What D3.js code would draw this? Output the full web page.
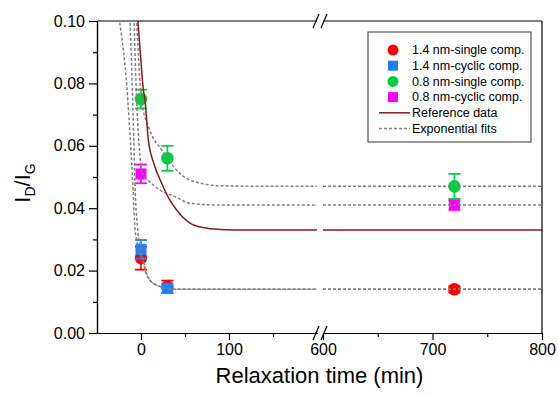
<!DOCTYPE html>
<html>
<head>
<meta charset="utf-8">
<script src="https://cdn.jsdelivr.net/npm/d3@7"></script>
<style>
  html, body { margin: 0; padding: 0; background: #fff; }
  svg { display: block; font-family: Arial, "Liberation Sans", sans-serif; }
</style>
</head>
<body>
<svg id="chart" width="558" height="397"></svg>
<script>
// ---- measured series (time in min, I_D/I_G) ----
const seriesNames = ["1.4 nm-single comp.", "1.4 nm-cyclic comp.", "0.8 nm-single comp.", "0.8 nm-cyclic comp."];
const seriesColors = ["#ff0000", "#1e80ff", "#00d040", "#ff00ff"];
const seriesShapes = ["circle", "square", "circle", "square"];

const single14T = [0, 30, 720];
const single14V = [0.024, 0.0148, 0.014];
const single14E = [0.0037, 0.002, 0.001];

const cyclic14T = [0, 30];
const cyclic14V = [0.0268, 0.0143];
const cyclic14E = [0.003, 0.0015];

const single08T = [0, 30, 720];
const single08V = [0.075, 0.056, 0.047];
const single08E = [0.003, 0.004, 0.004];

const cyclic08T = [0, 720];
const cyclic08V = [0.051, 0.041];
const cyclic08E = [0.003, 0.0015];

// ---- reference curve and exponential fits (points along each curve) ----
const refT = [-4, -1.9, 0, 2.6, 4.5, 8.3, 15, 23.5, 32, 40.5, 55.7, 70, 90, 120, 200, 600, 800];
const refV = [0.102, 0.094, 0.087, 0.078, 0.0747, 0.062, 0.054, 0.048, 0.043, 0.0394, 0.0352, 0.0338, 0.0332, 0.033, 0.033, 0.033, 0.033];

const fitSingle08T = [-5, 0.6, 10, 24, 38, 55.7, 90, 140, 200, 600, 800];
const fitSingle08V = [0.101, 0.0747, 0.065, 0.0585, 0.053, 0.049, 0.0472, 0.047, 0.047, 0.047, 0.047];

const fitCyclic08T = [-8, -5, -3, 2, 10, 21.6, 38.6, 55.7, 90, 200, 600, 800];
const fitCyclic08V = [0.101, 0.075, 0.0635, 0.051, 0.0485, 0.0458, 0.0437, 0.0416, 0.041, 0.041, 0.041, 0.041];

const fitSingle14T = [-25, -15, -12.5, -9, -7.5, -5, -2, 2, 6, 10, 18, 27, 40, 200, 600, 800];
const fitSingle14V = [0.101, 0.0747, 0.0635, 0.046, 0.036, 0.03, 0.026, 0.023, 0.019, 0.017, 0.0153, 0.0145, 0.014, 0.014, 0.014, 0.014];

const fitCyclic14T = [-12.5, -9.5, -8, -6.5, -4, -1, 2, 6, 10, 18, 27, 40, 200, 600, 800];
const fitCyclic14V = [0.101, 0.075, 0.06, 0.045, 0.034, 0.028, 0.024, 0.0195, 0.017, 0.0153, 0.0145, 0.014, 0.014, 0.014, 0.014];

// ---- axis definitions ----
const xDomainLow = [-50, 200];
const xDomainHigh = [600, 800];
const xMajorLow = [0, 100];
const xMinorLow = [50, 150];
const xMajorHigh = [600, 700, 800];
const xMinorHigh = [650, 750];
const yDomain = [0, 0.1];
const yMajor = [0, 0.02, 0.04, 0.06, 0.08, 0.10];
const yMinor = [0.01, 0.03, 0.05, 0.07, 0.09];

// ---- layout ----
const plotL = 97, plotR = 542, plotT = 21, plotB = 333;
const breakL = 317, breakR = 323;

const svg = d3.select("#chart");
const xLow = d3.scaleLinear().domain(xDomainLow).range([plotL, breakL]);
const xHigh = d3.scaleLinear().domain(xDomainHigh).range([breakR, plotR]);
const y = d3.scaleLinear().domain(yDomain).range([plotB, plotT]);
const xAt = t => (t <= xDomainLow[1] ? xLow(t) : xHigh(t));

const defs = svg.append("defs");
defs.append("clipPath").attr("id", "clipLow").append("rect")
  .attr("x", plotL).attr("y", plotT).attr("width", breakL - plotL).attr("height", plotB - plotT);
defs.append("clipPath").attr("id", "clipHigh").append("rect")
  .attr("x", breakR).attr("y", plotT).attr("width", plotR - breakR).attr("height", plotB - plotT);

const series = seriesNames.map((name, i) => {
  const T = [single14T, cyclic14T, single08T, cyclic08T][i];
  const V = [single14V, cyclic14V, single08V, cyclic08V][i];
  const E = [single14E, cyclic14E, single08E, cyclic08E][i];
  return { name, color: seriesColors[i], shape: seriesShapes[i],
           pts: T.map((t, j) => ({ t, v: V[j], e: E[j] })) };
});

// ---- markers with error bars ----
const capW = 6;
const markerLayer = svg.append("g");
series.forEach(s => {
  const g = markerLayer.append("g");
  s.pts.forEach(p => {
    const cx = xAt(p.t);
    g.append("line").attr("x1", cx).attr("x2", cx)
      .attr("y1", y(p.v + p.e)).attr("y2", y(p.v - p.e))
      .attr("stroke", s.color).attr("stroke-width", 1.6);
    [p.v + p.e, p.v - p.e].forEach(ev => {
      g.append("line").attr("x1", cx - capW).attr("x2", cx + capW)
        .attr("y1", y(ev)).attr("y2", y(ev))
        .attr("stroke", s.color).attr("stroke-width", 1.8);
    });
    if (s.shape === "circle") {
      g.append("circle").attr("cx", cx).attr("cy", y(p.v)).attr("r", 6.3).attr("fill", s.color);
    } else {
      g.append("rect").attr("x", cx - 5.5).attr("y", y(p.v) - 5.5)
        .attr("width", 11).attr("height", 11).attr("fill", s.color);
    }
  });
});

// ---- curves (drawn over the markers) ----
function drawCurve(T, V, color, dash) {
  const pts = T.map((t, i) => ({ t, v: V[i] }));
  const low = pts.filter(p => p.t <= xDomainLow[1]);
  const high = pts.filter(p => p.t >= xDomainHigh[0]);
  const lineLow = d3.line().x(p => xLow(p.t)).y(p => y(p.v)).curve(d3.curveMonotoneX);
  const lineHigh = d3.line().x(p => xHigh(p.t)).y(p => y(p.v));
  [[low, lineLow, "clipLow"], [high, lineHigh, "clipHigh"]].forEach(([d, gen, clip]) => {
    if (d.length < 2) return;
    svg.append("path").attr("d", gen(d)).attr("clip-path", `url(#${clip})`)
      .attr("fill", "none").attr("stroke", color).attr("stroke-width", 1.5)
      .attr("stroke-dasharray", dash);
  });
}
const fitColor = "#808080", fitDash = "3,2", refColor = "#8b1a1a";
drawCurve(fitSingle14T, fitSingle14V, fitColor, fitDash);
drawCurve(fitCyclic14T, fitCyclic14V, fitColor, fitDash);
drawCurve(fitCyclic08T, fitCyclic08V, fitColor, fitDash);
drawCurve(fitSingle08T, fitSingle08V, fitColor, fitDash);
drawCurve(refT, refV, refColor, null);

// ---- axes ----
const axisColor = "#000";
const tickFont = 16;

function styleAxis(g) {
  g.selectAll("path, line").attr("stroke", axisColor).attr("stroke-width", 1.2);
  g.selectAll("text").attr("font-size", tickFont).attr("fill", "#000")
    .attr("font-family", "Arial, 'Liberation Sans', sans-serif");
}

// bottom axis, two segments
svg.append("g").attr("transform", `translate(0,${plotB})`)
  .call(d3.axisBottom(xLow).tickValues(xMajorLow).tickSize(7).tickSizeOuter(0).tickPadding(4))
  .call(styleAxis);
svg.append("g").attr("transform", `translate(0,${plotB})`)
  .call(d3.axisBottom(xLow).tickValues(xMinorLow).tickSize(4).tickSizeOuter(0).tickFormat(""))
  .call(styleAxis);
svg.append("g").attr("transform", `translate(0,${plotB})`)
  .call(d3.axisBottom(xHigh).tickValues(xMajorHigh).tickSize(7).tickSizeOuter(0).tickPadding(4))
  .call(styleAxis);
svg.append("g").attr("transform", `translate(0,${plotB})`)
  .call(d3.axisBottom(xHigh).tickValues(xMinorHigh).tickSize(4).tickSizeOuter(0).tickFormat(""))
  .call(styleAxis);

// left axis
svg.append("g").attr("transform", `translate(${plotL},0)`)
  .call(d3.axisLeft(y).tickValues(yMajor).tickSize(8).tickSizeOuter(0).tickPadding(4).tickFormat(d3.format(".2f")))
  .call(styleAxis);
svg.append("g").attr("transform", `translate(${plotL},0)`)
  .call(d3.axisLeft(y).tickValues(yMinor).tickSize(4).tickSizeOuter(0).tickFormat(""))
  .call(styleAxis);

// frame: top and right edges
svg.append("line").attr("x1", plotL).attr("x2", breakL).attr("y1", plotT).attr("y2", plotT)
  .attr("stroke", axisColor).attr("stroke-width", 1.2);
svg.append("line").attr("x1", breakR).attr("x2", plotR).attr("y1", plotT).attr("y2", plotT)
  .attr("stroke", axisColor).attr("stroke-width", 1.2);
svg.append("line").attr("x1", plotR).attr("x2", plotR).attr("y1", plotT).attr("y2", plotB)
  .attr("stroke", axisColor).attr("stroke-width", 1.2);

// axis-break marks
[plotT, plotB].forEach(yy => {
  [breakL - 1, breakR + 1].forEach(bx => {
    svg.append("line").attr("x1", bx - 3).attr("y1", yy + 7).attr("x2", bx + 3).attr("y2", yy - 7)
      .attr("stroke", axisColor).attr("stroke-width", 1.2);
  });
});

// axis titles
svg.append("text").attr("x", (plotL + plotR) / 2).attr("y", 383)
  .attr("text-anchor", "middle").attr("font-size", 22).text("Relaxation time (min)");

const yt = svg.append("text").attr("transform", `translate(30,${(plotT + plotB) / 2 + 6}) rotate(-90)`)
  .attr("text-anchor", "middle").attr("font-size", 22);
yt.append("tspan").text("I");
yt.append("tspan").attr("font-size", 14).attr("dy", 5).text("D");
yt.append("tspan").attr("dy", -5).text("/I");
yt.append("tspan").attr("font-size", 14).attr("dy", 5).text("G");

// ---- legend ----
const lg = svg.append("g");
lg.append("rect").attr("x", 368).attr("y", 32).attr("width", 163).attr("height", 110)
  .attr("fill", "#fff").attr("stroke", "#333").attr("stroke-width", 1);
const rowY = i => 50 + i * 15.7;
const symX = 393, textX = 412;
series.forEach((s, i) => {
  if (s.shape === "circle") {
    lg.append("circle").attr("cx", symX).attr("cy", rowY(i)).attr("r", 5.5).attr("fill", s.color);
  } else {
    lg.append("rect").attr("x", symX - 5).attr("y", rowY(i) - 5).attr("width", 10).attr("height", 10).attr("fill", s.color);
  }
  lg.append("text").attr("x", textX).attr("y", rowY(i)).attr("dy", "0.35em")
    .attr("font-size", 12.5).text(s.name);
});
const lineLabels = ["Reference data", "Exponential fits"];
[[refColor, null], [fitColor, fitDash]].forEach(([c, d], k) => {
  const i = 4 + k;
  lg.append("line").attr("x1", 379).attr("x2", 410).attr("y1", rowY(i)).attr("y2", rowY(i))
    .attr("stroke", c).attr("stroke-width", 1.5).attr("stroke-dasharray", d);
  lg.append("text").attr("x", textX).attr("y", rowY(i)).attr("dy", "0.35em")
    .attr("font-size", 12.5).text(lineLabels[k]);
});
</script>
</body>
</html>
